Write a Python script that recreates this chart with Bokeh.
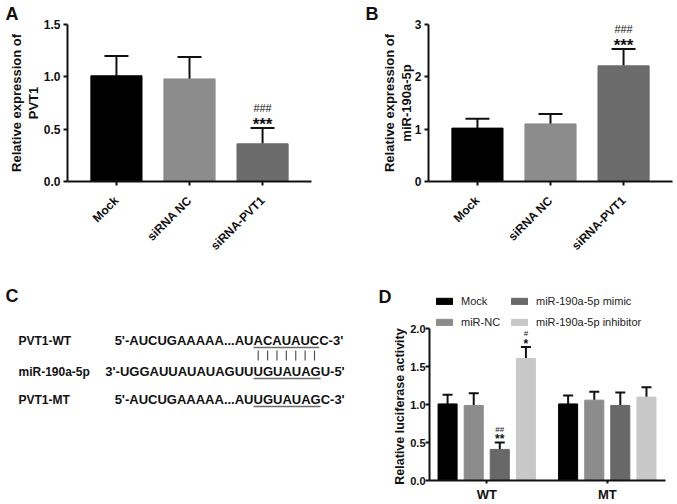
import math
from bokeh.plotting import figure
from bokeh.models import (Range1d, FixedTicker, NumeralTickFormatter, Whisker, TeeHead,
                          ColumnDataSource, Legend, LegendItem)
from bokeh.layouts import row, column
from bokeh.embed import file_html
from bokeh.resources import INLINE
from bokeh.core.properties import value

FONT = "Liberation Sans"

# ---------------- data ----------------
# Panel A
a_groups = ["Mock", "siRNA NC", "siRNA-PVT1"]
a_means = [1.01, 0.98, 0.36]
a_err = [0.19, 0.21, 0.15]
a_star = ["", "", "***"]
a_hash = ["", "", "###"]
a_yticks = [0.0, 0.5, 1.0, 1.5]

# Panel B
b_groups = ["Mock", "siRNA NC", "siRNA-PVT1"]
b_means = [1.02, 1.10, 2.21]
b_err = [0.18, 0.19, 0.32]
b_star = ["", "", "***"]
b_hash = ["", "", "###"]
b_yticks = [0, 1, 2, 3]

# Panel C
c_names = ["PVT1-WT", "miR-190a-5p", "PVT1-MT"]
c_prefix = ["5'-AUCUGAAAAA...AU", "3'-UGGAUUAUAUAGUU", "5'-AUCUGAAAAA...AU"]
c_core = ["ACAUAUC", "UGUAUAG", "UGUAUAG"]
c_suffix = ["C-3'", "U-5'", "C-3'"]

# Panel D
d_groups = ["WT", "MT"]
d_series = ["Mock", "miR-NC", "miR-190a-5p mimic", "miR-190a-5p inhibitor"]
d_mock = [1.01, 1.01]
d_mock_err = [0.12, 0.11]
d_nc = [0.99, 1.06]
d_nc_err = [0.16, 0.11]
d_mimic = [0.41, 0.99]
d_mimic_err = [0.09, 0.17]
d_inhib = [1.61, 1.10]
d_inhib_err = [0.15, 0.13]
d_mimic_star = ["**", ""]
d_mimic_hash = ["##", ""]
d_inhib_star = ["*", ""]
d_inhib_hash = ["#", ""]
d_yticks = [0.0, 0.5, 1.0, 1.5, 2.0]
d_ylabel = "Relative luciferase activity"

panel_letters = ["A", "B", "C", "D"]

# ---------------- styles ----------------
abc_colors = ["#000000", "#8c8c8c", "#6b6b6b"]
d_colors = ["#000000", "#8c8c8c", "#686868", "#c8c8c8"]
INK = "#111111"


def style_axes(p, tick_size="12px"):
    p.outline_line_color = None
    p.grid.visible = False
    p.background_fill_color = "white"
    p.border_fill_color = "white"
    p.frame_align = False
    for ax in p.axis:
        ax.axis_line_width = 2
        ax.axis_line_color = INK
        ax.major_tick_line_width = 2
        ax.major_tick_line_color = INK
        ax.major_tick_out = 4
        ax.major_tick_in = 0
        ax.minor_tick_out = 0
        ax.minor_tick_in = 0
        ax.major_label_text_font = FONT
        ax.major_label_text_font_style = "bold"
        ax.major_label_text_font_size = tick_size
        ax.major_label_text_color = INK
        ax.axis_label_text_font = FONT
        ax.axis_label_text_font_style = "bold"
        ax.axis_label_text_font_size = "13px"
        ax.axis_label_text_color = INK
        ax.axis_label_text_line_height = 1.1


def bar_panel(groups, means, errs, stars, hashes, yticks, ymax, fmt, ylabel,
              width, height, mbl, mbr, xr, label_standoff, letter, letter_offset):
    xs = list(range(len(groups)))
    p = figure(width=width, height=height, x_range=Range1d(*xr), y_range=Range1d(0, ymax),
               output_backend="svg", toolbar_location=None, tools="",
               min_border_left=mbl, min_border_right=mbr, min_border_top=23,
               min_border_bottom=76)
    p.title.text = letter
    p.title.align = "left"
    p.title.offset = letter_offset
    p.title.standoff = 2
    p.title.text_font = FONT
    p.title.text_font_size = "18px"
    p.title.text_font_style = "bold"
    p.title.text_color = INK
    p.vbar(x=xs, top=means, width=0.7, color=abc_colors)
    upper = [m + e for m, e in zip(means, errs)]
    src = ColumnDataSource(dict(x=xs, lower=means, upper=upper))
    p.add_layout(Whisker(source=src, base="x", lower="lower", upper="upper",
                         dimension="height", line_width=2, line_color=INK,
                         upper_head=TeeHead(size=24, line_width=2, line_color=INK),
                         lower_head=None))
    p.text(x=xs, y=upper, text=stars, text_font=value(FONT), text_font_style="bold",
           text_font_size="17px", text_align="center", text_baseline="middle",
           y_offset=-4, text_color=INK)
    p.text(x=xs, y=upper, text=hashes, text_font=value(FONT),
           text_font_size="11px", text_align="center", text_baseline="middle",
           y_offset=-20, text_color=INK)
    style_axes(p)
    p.xaxis.ticker = FixedTicker(ticks=xs)
    p.xaxis.major_label_overrides = {i: g for i, g in enumerate(groups)}
    p.xaxis.major_label_orientation = math.pi / 4
    p.xaxis.major_label_standoff = 13
    p.yaxis.ticker = FixedTicker(ticks=yticks)
    p.yaxis.formatter = NumeralTickFormatter(format=fmt)
    p.yaxis.axis_label = ylabel
    p.yaxis.axis_label_standoff = label_standoff
    p.yaxis.major_label_standoff = 3
    return p


pA = bar_panel(a_groups, a_means, a_err, a_star, a_hash, a_yticks, 1.5, "0.0",
               "Relative expression of\nPVT1", 336, 260, 67, 25, (-0.67, 2.67), 0,
               panel_letters[0], -62)
pB = bar_panel(b_groups, b_means, b_err, b_star, b_hash, b_yticks, 3, "0",
               "Relative expression of\nmiR-190a-5p", 341, 260, 92, 5, (-0.67, 2.67), -2,
               panel_letters[1], -63)

# ---------------- Panel C (page coordinates x 0..CW, y 260..504) ----------------
CW = 407
pC = figure(width=CW, height=244, x_range=Range1d(0, CW), y_range=Range1d(504, 260),
            output_backend="svg", toolbar_location=None, tools="",
            x_axis_type=None, y_axis_type=None,
            min_border=0, min_border_left=0, min_border_right=0,
            min_border_top=0, min_border_bottom=0)
pC.outline_line_color = None
pC.grid.visible = False
pC.frame_align = False

# Liberation Sans Bold advance widths (em/1000) for the letters of the seed region
W_BOLD = {"A": 722, "U": 722, "C": 722, "G": 778}
SEQ_SIZE = 13
X0 = 253           # start of the seed region
rows_y = [340, 371, 399]
core_w = [sum(W_BOLD[ch] for ch in s) * SEQ_SIZE / 1000 for s in c_core]

pC.text(x=[5, 378], y=[295, 296.5], text=panel_letters[2:], text_font=value(FONT),
        text_font_style="bold", text_font_size="18px", text_baseline="middle",
        text_color=INK)
pC.text(x=[18] * 3, y=rows_y, text=c_names, text_font=value(FONT), text_font_style="bold",
        text_font_size="12px", text_baseline="middle", text_color=INK)
pC.text(x=[X0] * 3, y=rows_y, text=c_prefix, text_font=value(FONT), text_font_style="bold",
        text_font_size=f"{SEQ_SIZE}px", text_baseline="middle", text_align="right",
        text_color=INK)
pC.text(x=[X0] * 3, y=rows_y, text=c_core, text_font=value(FONT), text_font_style="bold",
        text_font_size=f"{SEQ_SIZE}px", text_baseline="middle", text_align="left",
        text_color=INK)
pC.text(x=[X0 + w for w in core_w], y=rows_y, text=c_suffix, text_font=value(FONT),
        text_font_style="bold", text_font_size=f"{SEQ_SIZE}px", text_baseline="middle",
        text_align="left", text_color=INK)
# underlines of the seed regions
pC.segment(x0=[X0] * 3, y0=[y + 7 for y in rows_y], x1=[X0 + w for w in core_w],
           y1=[y + 7 for y in rows_y], line_color="#6e6e6e", line_width=1.5)
# base-pairing bars
adv = [W_BOLD[ch] * SEQ_SIZE / 1000 for ch in c_core[0]]
bar_x = [X0 + sum(adv[:i]) + adv[i] / 2 for i in range(len(adv))]
pC.segment(x0=bar_x, y0=[rows_y[0] + 10] * len(bar_x), x1=bar_x,
           y1=[rows_y[0] + 20] * len(bar_x), line_color="#555555", line_width=1.2)
# y-axis title of panel D (drawn here so it centres on the 0-2 axis span)
pC.text(x=[399], y=[406], text=[d_ylabel], angle=math.pi / 2, text_font=value(FONT),
        text_font_style="bold", text_font_size="12.5px", text_align="center",
        text_baseline="middle", text_color=INK)

# ---------------- Panel D ----------------
pD = figure(width=677 - CW, height=244, x_range=Range1d(-0.475, 1.483),
            y_range=Range1d(0, 2.48),
            output_backend="svg", toolbar_location=None, tools="",
            min_border_left=22, min_border_right=12, min_border_top=32, min_border_bottom=21)
gx = list(range(len(d_groups)))
offsets = [-0.325, -0.108, 0.108, 0.325]
series_vals = [d_mock, d_nc, d_mimic, d_inhib]
series_errs = [d_mock_err, d_nc_err, d_mimic_err, d_inhib_err]
rends = []
for k, (vals, errs) in enumerate(zip(series_vals, series_errs)):
    xs = [g + offsets[k] for g in gx]
    r = pD.vbar(x=xs, top=vals, width=0.158, color=d_colors[k])
    rends.append(r)
    upper = [v + e for v, e in zip(vals, errs)]
    src = ColumnDataSource(dict(x=xs, lower=vals, upper=upper))
    pD.add_layout(Whisker(source=src, base="x", lower="lower", upper="upper",
                          dimension="height", line_width=2, line_color=INK,
                          upper_head=TeeHead(size=10, line_width=2, line_color=INK),
                          lower_head=None))
    if k in (2, 3):
        stars = d_mimic_star if k == 2 else d_inhib_star
        hashes = d_mimic_hash if k == 2 else d_inhib_hash
        pD.text(x=xs, y=upper, text=stars, text_font=value(FONT), text_font_style="bold",
                text_font_size="12px", text_align="center", text_baseline="middle",
                y_offset=-3.5, text_color=INK)
        pD.text(x=xs, y=upper, text=hashes, text_font=value(FONT),
                text_font_size="8px", text_align="center", text_baseline="middle",
                y_offset=-13.5, text_color=INK)

style_axes(pD)
pD.xaxis.ticker = FixedTicker(ticks=gx)
pD.xaxis.major_label_overrides = {i: g for i, g in enumerate(d_groups)}
pD.xaxis.major_label_text_font_size = "13px"
pD.xaxis.major_label_standoff = 3
pD.xaxis.major_tick_out = 3
pD.yaxis.ticker = FixedTicker(ticks=d_yticks)
pD.yaxis.bounds = (0, 2)
pD.yaxis.formatter = NumeralTickFormatter(format="0.0")
pD.yaxis.major_label_text_font_size = "11px"
pD.yaxis.major_label_standoff = 0

legend = Legend(items=[LegendItem(label=d_series[c], renderers=[rends[c]]) for c in range(4)],
                location=(5, 151), orientation="vertical", nrows=2, ncols=2,
                glyph_width=20, glyph_height=8, label_height=14, label_width=41,
                label_standoff=7, spacing=7, padding=0, margin=0,
                border_line_color=None, background_fill_alpha=0,
                label_text_font=FONT, label_text_font_size="11px",
                label_text_color="#222222")
pD.add_layout(legend)

layout = column(row(pA, pB), row(pC, pD))
open("out.html", "w").write(file_html(layout, INLINE))
